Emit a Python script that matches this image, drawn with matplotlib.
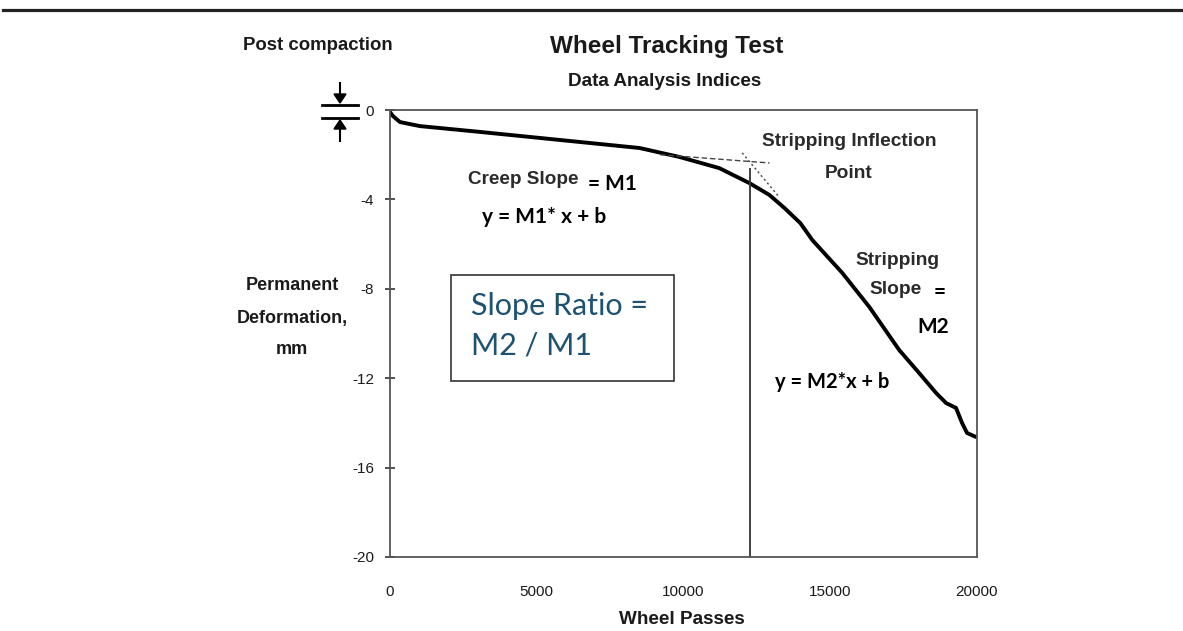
import matplotlib
matplotlib.use("Agg")
import matplotlib.pyplot as plt
from matplotlib.lines import Line2D
from matplotlib.patches import Rectangle

# --- data ---
wheel_passes = [0, 100, 340, 1020, 3060, 6460, 8500, 9860, 11220, 12245, 12925,
                13435, 13980, 14390, 15410, 16330, 17350, 18030, 18605, 18945,
                19285, 19490, 19660, 19965]
deformation = [-0.09, -0.27, -0.54, -0.72, -0.98, -1.43, -1.70, -2.10, -2.60, -3.27,
               -3.80, -4.38, -5.06, -5.82, -7.29, -8.81, -10.74, -11.77, -12.66,
               -13.11, -13.33, -14.0, -14.45, -14.63]
creep_tangent_x = [9200, 12930]
creep_tangent_y = [-2.0, -2.37]
strip_tangent_x = [12000, 13265]
strip_tangent_y = [-1.92, -3.9]
inflection_x = 12250
x_ticks = [0, 5000, 10000, 15000, 20000]
y_ticks = [0, -4, -8, -12, -16, -20]

NARROW = ["Liberation Sans", "DejaVu Sans"]
CAL = ["Lato", "DejaVu Sans"]
INK = "#1a1a1a"

W, H = 1183, 631
fig = plt.figure(figsize=(W / 100, H / 100), dpi=100)
fx = lambda px: px / W
fy = lambda py: 1 - py / H

ax = fig.add_axes([fx(390), fy(557), (977 - 390) / W, (557 - 110) / H])
ax.plot(wheel_passes, deformation, color="black", lw=2.8, solid_capstyle="round")
ax.plot(creep_tangent_x, creep_tangent_y, color="#444444", lw=1.0, ls=(0, (4, 2)))
ax.plot(strip_tangent_x, strip_tangent_y, color="#444444", lw=1.0, ls=(0, (1.5, 2)))
ax.vlines(inflection_x, -20, -2.6, color="#333333", lw=1.3)

ax.set_xlim(0, 20000)
ax.set_ylim(-20, 0)
ax.set_xticks(x_ticks)
ax.set_yticks(y_ticks)
ax.set_xticklabels([str(v) for v in x_ticks], family=NARROW, fontsize=11, color=INK)
ax.set_yticklabels([str(v) for v in y_ticks], family=NARROW, fontsize=11, color=INK)
ax.tick_params(axis="y", direction="inout", length=7, width=1.2, pad=8, color="#333333")
ax.tick_params(axis="x", length=0, pad=20)
for s in ax.spines.values():
    s.set_color("#555555")
    s.set_linewidth(1.3)

# top rule
fig.add_artist(Line2D([fx(3), fx(1183)], [fy(10), fy(10)], color="#222222", lw=2.3))

# titles and labels
fig.text(fx(667), fy(46), "Wheel Tracking Test", family=NARROW, fontsize=17.5,
         fontweight="bold", ha="center", va="center", color=INK)
fig.text(fx(665), fy(82), "Data Analysis Indices", family=NARROW, fontsize=13.6,
         fontweight="bold", ha="center", va="center", color=INK)
fig.text(fx(318), fy(46), "Post compaction", family=NARROW, fontsize=13.4,
         fontweight="bold", ha="center", va="center", color=INK)
fig.text(fx(682), fy(619), "Wheel Passes", family=NARROW, fontsize=13.6,
         fontweight="bold", ha="center", va="center", color=INK)
for py, s in [(286, "Permanent"), (318, "Deformation,"), (350, "mm")]:
    fig.text(fx(292), fy(py), s, family=NARROW, fontsize=13,
             fontweight="bold", ha="center", va="center", color=INK)

# post compaction symbol
for py in (105, 118):
    fig.add_artist(Line2D([fx(322), fx(358)], [fy(py), fy(py)], color="black", lw=2))
fig.add_artist(Line2D([fx(340), fx(340)], [fy(83), fy(96)], color="black", lw=1.5))
fig.add_artist(Line2D([fx(340), fx(340)], [fy(128), fy(141)], color="black", lw=1.5))
fig.add_artist(plt.Polygon([[fx(334), fy(94)], [fx(346), fy(94)], [fx(340), fy(103)]],
                           closed=True, color="black", transform=fig.transFigure))
fig.add_artist(plt.Polygon([[fx(334), fy(129)], [fx(346), fy(129)], [fx(340), fy(120)]],
                           closed=True, color="black", transform=fig.transFigure))

# annotations
fig.text(fx(523), fy(180), "Creep Slope", family=NARROW, fontsize=13.6,
         fontweight="bold", ha="center", va="center", color="#2a2a2a")
fig.text(fx(588), fy(184), "= M1", family=CAL, fontsize=15,
         fontweight="bold", ha="left", va="center")
fig.text(fx(482), fy(217), "y = M1* x + b", family=CAL, fontsize=15,
         fontweight="bold", ha="left", va="center")
fig.text(fx(849), fy(142), "Stripping Inflection", family=NARROW, fontsize=13.8,
         fontweight="bold", ha="center", va="center", color="#2a2a2a")
fig.text(fx(849), fy(174), "Point", family=NARROW, fontsize=13.8,
         fontweight="bold", ha="center", va="center", color="#2a2a2a")
fig.text(fx(897), fy(260), "Stripping", family=NARROW, fontsize=13.8,
         fontweight="bold", ha="center", va="center", color="#2a2a2a")
fig.text(fx(896), fy(290), "Slope", family=NARROW, fontsize=13.8,
         fontweight="bold", ha="center", va="center", color="#2a2a2a")
fig.text(fx(934), fy(292), "=", family=CAL, fontsize=15,
         fontweight="bold", ha="left", va="center")
fig.text(fx(933), fy(327), "M2", family=CAL, fontsize=15,
         fontweight="bold", ha="center", va="center")
fig.text(fx(775), fy(382), "y = M2*x + b", family=CAL, fontsize=14.5,
         fontweight="bold", ha="left", va="center")

# slope ratio box
fig.add_artist(Rectangle((fx(451), fy(381)), (674 - 451) / W, (381 - 275) / H,
                         transform=fig.transFigure, fill=False, ec="#333333", lw=1.2))
fig.text(fx(471), fy(306), "Slope Ratio =", family=CAL, fontsize=22,
         color="#1D5270", ha="left", va="center")
fig.text(fx(471), fy(346), "M2 / M1", family=CAL, fontsize=22,
         color="#1D5270", ha="left", va="center")

fig.savefig("out.png", dpi=100)
